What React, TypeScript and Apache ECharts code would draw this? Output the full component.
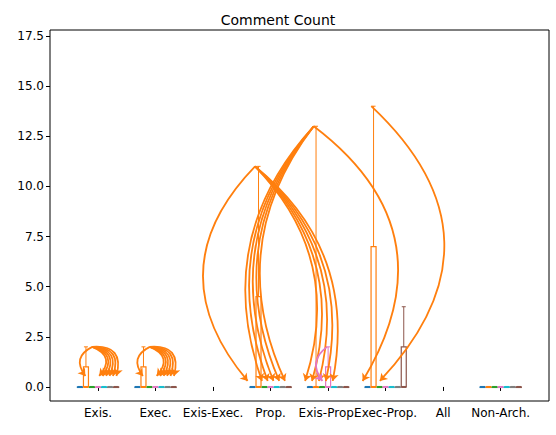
import { useEffect, useRef } from 'react'
import * as echarts from 'echarts'

const categories = ['Exis.', 'Exec.', 'Exis-Exec.', 'Prop.', 'Exis-Prop.', 'Exec-Prop.', 'All', 'Non-Arch.']
const yTicks = [0, 2.5, 5, 7.5, 10, 12.5, 15, 17.5]
const palette = ['#1f77b4', '#ff7f0e', '#2ca02c', '#e377c2', '#17becf', '#7f7f7f', '#8c564b']
const groupsWithData = [1, 2, 4, 5, 6, 8]

// [group, seriesIndex, q1, q3, whiskerMax]
const boxes: [number, number, number, number, number][] = [
  [1, 1, 0, 1, 2],
  [2, 1, 0, 1, 2],
  [4, 1, 0, 4.5, 11],
  [5, 1, 0, 0, 13],
  [5, 3, 0, 1, 2],
  [6, 1, 0, 7, 14],
  [6, 6, 0, 2, 4],
]

// curved annotation arrows: [fromX, fromY, toX, toY, curveness]
const arrows: [number, number, number, number, number][] = [
  [0.9, 2, 0.78, 0.55, -0.6],
  [0.9, 2, 1.02, 0.55, 0.7],
  [0.9, 2, 1.08, 0.55, 0.7],
  [0.9, 2, 1.14, 0.55, 0.7],
  [0.9, 2, 1.2, 0.55, 0.7],
  [0.9, 2, 1.26, 0.55, 0.7],
  [0.9, 2, 1.32, 0.55, 0.7],
  [1.9, 2, 1.78, 0.55, -0.6],
  [1.9, 2, 2.02, 0.55, 0.7],
  [1.9, 2, 2.08, 0.55, 0.7],
  [1.9, 2, 2.14, 0.55, 0.7],
  [1.9, 2, 2.2, 0.55, 0.7],
  [1.9, 2, 2.26, 0.55, 0.7],
  [1.9, 2, 2.32, 0.55, 0.7],
  [3.73, 11, 3.6, 0.3, -0.45],
  [3.73, 11, 4.6, 0.3, 0.3],
  [3.73, 11, 4.72, 0.3, 0.3],
  [3.73, 11, 4.84, 0.3, 0.3],
  [3.73, 11, 4.96, 0.3, 0.3],
  [3.73, 11, 5.08, 0.3, 0.3],
  [4.75, 13, 3.85, 0.3, -0.3],
  [4.75, 13, 3.95, 0.3, -0.3],
  [4.75, 13, 4.05, 0.3, -0.3],
  [4.75, 13, 4.15, 0.3, -0.3],
  [4.75, 13, 4.25, 0.3, -0.3],
  [4.75, 13, 5.6, 0.3, 0.45],
  [5.75, 14, 5.9, 0.3, 0.5],
]
const pinkArrow: [number, number, number, number, number] = [4.98, 2, 4.9, 0.3, -0.5]

const offset = (s: number) => (s - 3) * 0.105

export default function App() {
  const ref = useRef<HTMLDivElement>(null)

  useEffect(() => {
    if (!ref.current) return
    const chart = echarts.init(ref.current, null, { renderer: 'svg' })

    const boxData: number[][] = []
    for (const g of groupsWithData) {
      for (let s = 0; s < palette.length; s++) {
        const b = boxes.find(x => x[0] === g && x[1] === s)
        boxData.push(b ? [g + offset(s), b[2], b[3], b[4], s] : [g + offset(s), 0, 0, 0, s])
      }
    }

    const toLine = (a: [number, number, number, number, number], color: string) => ({
      coords: [[a[0], a[1]], [a[2], a[3]]],
      lineStyle: { curveness: a[4], color },
    })

    chart.setOption({
      animation: false,
      title: {
        text: 'Comment Count', left: 'center', top: 8,
        textStyle: { fontFamily: 'DejaVu Sans', fontWeight: 'normal', fontSize: 14, color: '#000' },
      },
      grid: { left: 50, right: 7, top: 30, bottom: 34, show: true, borderColor: '#000', borderWidth: 1 },
      xAxis: {
        type: 'value', min: 0.165, max: 8.84,
        axisLine: { show: false },
        splitLine: { show: false },
        axisTick: { show: true, customValues: [1, 2, 3, 4, 5, 6, 7, 8], length: 4, lineStyle: { color: '#000' } },
        axisLabel: {
          customValues: [1, 2, 3, 4, 5, 6, 7, 8],
          formatter: (v: number) => categories[Math.round(v) - 1] ?? '',
          color: '#000', fontFamily: 'DejaVu Sans', fontSize: 12, margin: 6,
        },
      },
      yAxis: {
        type: 'value', min: -0.7, max: 17.8,
        axisLine: { show: false },
        splitLine: { show: false },
        axisTick: { show: true, customValues: yTicks, length: 4, lineStyle: { color: '#000' } },
        axisLabel: {
          customValues: yTicks,
          formatter: (v: number) => v.toFixed(1),
          color: '#000', fontFamily: 'DejaVu Sans', fontSize: 12, margin: 6,
        },
      },
      series: [
        {
          type: 'custom',
          data: boxData,
          renderItem: (_p: unknown, api: any) => {
            const x = api.value(0), q1 = api.value(1), q3 = api.value(2), mx = api.value(3)
            const color = palette[api.value(4)]
            const [cx, y1] = api.coord([x, q1])
            const [, y3] = api.coord([x, q3])
            const [, ym] = api.coord([x, mx])
            const w = 5
            const children: any[] = [
              { type: 'rect', shape: { x: cx - w / 2, y: y3, width: w, height: Math.max(y1 - y3, 0.5) }, style: { fill: 'none', stroke: color, lineWidth: 1.2 } },
              { type: 'line', shape: { x1: cx - w / 2, y1, x2: cx + w / 2, y2: y1 }, style: { stroke: color, lineWidth: 2 } },
            ]
            if (mx > q3) {
              children.push(
                { type: 'line', shape: { x1: cx, y1: y3, x2: cx, y2: ym }, style: { stroke: color, lineWidth: 1 } },
                { type: 'line', shape: { x1: cx - 2, y1: ym, x2: cx + 2, y2: ym }, style: { stroke: color, lineWidth: 1 } },
              )
            }
            return { type: 'group', children }
          },
          z: 2,
        },
        {
          type: 'lines',
          coordinateSystem: 'cartesian2d',
          symbol: ['none', 'arrow'],
          symbolSize: 7,
          lineStyle: { width: 1.8, opacity: 1 },
          data: [...arrows.map(a => toLine(a, '#ff7f0e')), toLine(pinkArrow, '#e377c2')],
          z: 3,
        },
      ],
    })
    return () => chart.dispose()
  }, [])

  return <div ref={ref} style={{ position: 'absolute', left: 0, top: 0, width: 556, height: 435 }} />
}
